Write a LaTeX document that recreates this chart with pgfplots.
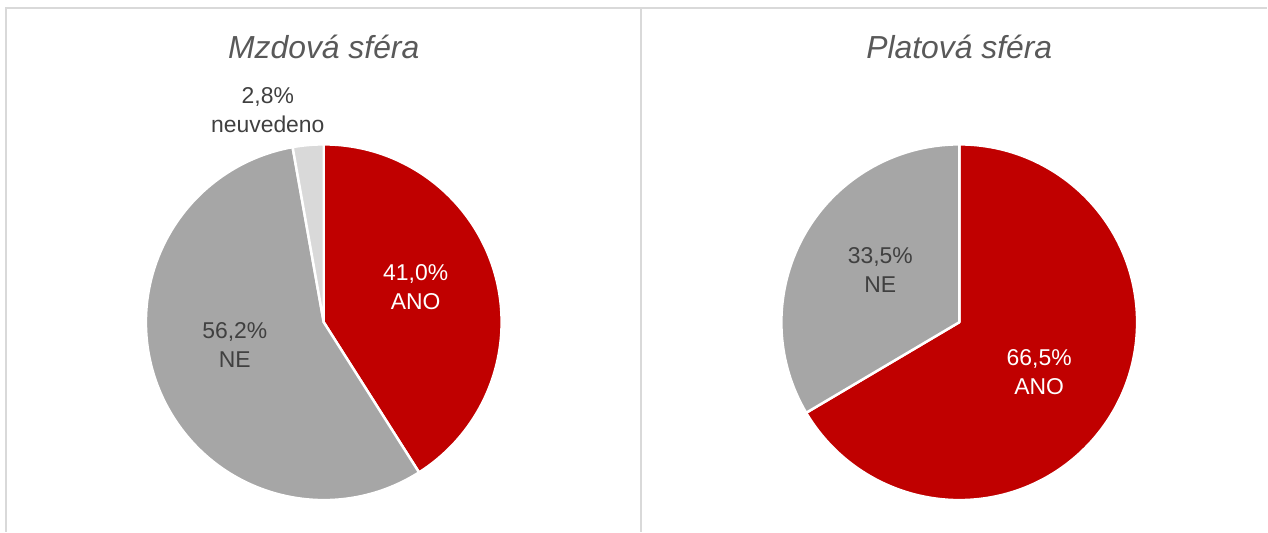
\documentclass[border=0pt]{standalone}
\usepackage{pgfplots}
\pgfplotsset{compat=1.18}
\usepackage{fontspec}
\setmainfont{Liberation Sans}
\definecolor{cRed}{HTML}{C00000}
\definecolor{cGrey}{HTML}{A6A6A6}
\definecolor{cLight}{HTML}{D9D9D9}
\definecolor{cBorder}{HTML}{D9D9D9}
\definecolor{cTitle}{HTML}{595959}
\definecolor{cText}{HTML}{404040}
% data (percent)
\def\LAno{41.0}\def\LNe{56.2}\def\LNeuv{2.8}
\def\RAno{66.5}\def\RNe{33.5}
\newcommand{\wedgeP}[5]{% cx, cy, start angle, end angle, colour
  \fill[#5, draw=white, line width=2.5bp, line join=round]
    (axis cs:#1,#2) -- ++(#3:178bp) arc[start angle=#3, end angle=#4, radius=178bp] -- cycle;}
\begin{document}
\begin{tikzpicture}
\begin{axis}[
  at={(0,0)}, anchor=south west,
  scale only axis, width=1268bp, height=532bp,
  xmin=0, xmax=1268, ymin=0, ymax=532,
  hide axis, clip=false]
  \path (axis cs:0,0) rectangle (axis cs:1268,532);
  % panel borders
  \draw[cBorder, line width=2bp] (axis cs:6,0) -- (axis cs:6,524) -- (axis cs:1268,524);
  \draw[cBorder, line width=2bp] (axis cs:641,524) -- (axis cs:641,0);
  % left pie
  \pgfmathsetmacro{\aA}{90}
  \pgfmathsetmacro{\aB}{90-3.6*\LAno}
  \pgfmathsetmacro{\aC}{\aB-3.6*\LNe}
  \pgfmathsetmacro{\aD}{\aC-3.6*\LNeuv}
  \wedgeP{324}{209.5}{\aA}{\aB}{cRed}
  \wedgeP{324}{209.5}{\aB}{\aC}{cGrey}
  \wedgeP{324}{209.5}{\aC}{\aD}{cLight}
  % right pie
  \pgfmathsetmacro{\bA}{90}
  \pgfmathsetmacro{\bB}{90-3.6*\RAno}
  \pgfmathsetmacro{\bC}{\bB-3.6*\RNe}
  \wedgeP{960}{209.5}{\bA}{\bB}{cRed}
  \wedgeP{960}{209.5}{\bB}{\bC}{cGrey}
  % titles
  \node[cTitle, font=\fontsize{32}{38}\selectfont\itshape] at (axis cs:324,485) {Mzdová sféra};
  \node[cTitle, font=\fontsize{32}{38}\selectfont\itshape] at (axis cs:960,485) {Platová sféra};
  % labels
  \tikzset{lab/.style={align=center, font=\fontsize{23}{29}\selectfont}}
  \node[lab, white] at (axis cs:416,245) {41,0\%\\ANO};
  \node[lab, cText] at (axis cs:235,187) {56,2\%\\NE};
  \node[lab, cText] at (axis cs:268,421.5) {2,8\%\\neuvedeno};
  \node[lab, cText] at (axis cs:881,262) {33,5\%\\NE};
  \node[lab, white] at (axis cs:1040,159.5) {66,5\%\\ANO};
\end{axis}
\end{tikzpicture}
\end{document}
